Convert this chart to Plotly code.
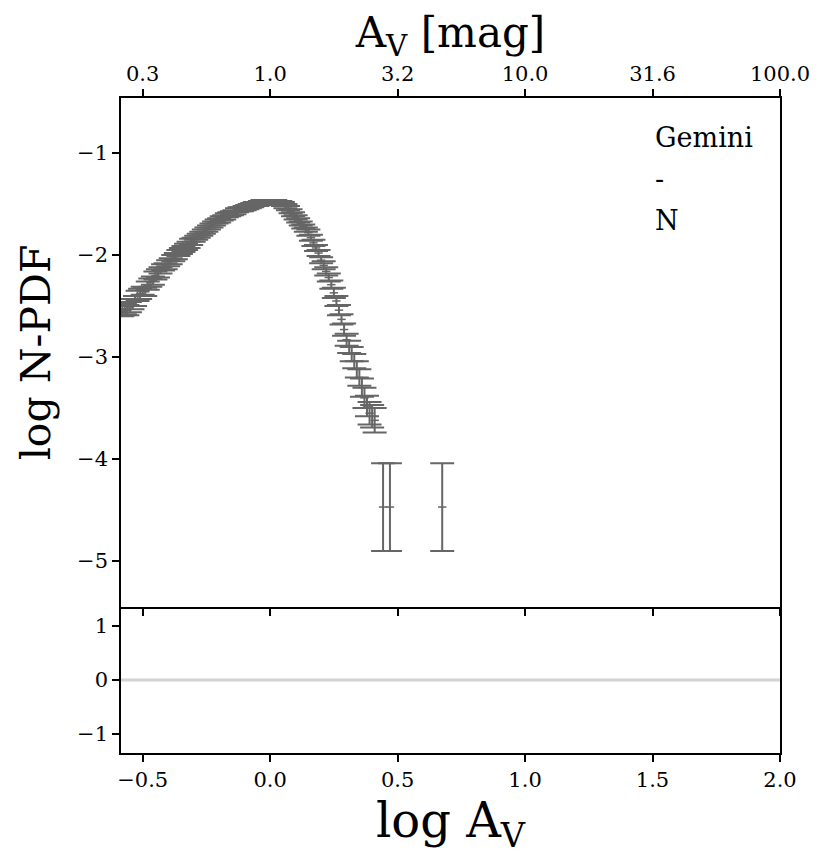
import plotly.graph_objects as go

# log A_V bin centres and log N-PDF values
log_av = [-0.58, -0.57, -0.56, -0.55, -0.54, -0.53, -0.52, -0.51, -0.50, -0.49,
          -0.48, -0.47, -0.46, -0.45, -0.44, -0.43, -0.42, -0.41, -0.40, -0.39,
          -0.38, -0.37, -0.36, -0.35, -0.34, -0.33, -0.32, -0.31, -0.30, -0.29,
          -0.28, -0.27, -0.26, -0.25, -0.24, -0.23, -0.22, -0.21, -0.20, -0.19,
          -0.18, -0.17, -0.16, -0.15, -0.14, -0.13, -0.12, -0.11, -0.10, -0.09,
          -0.08, -0.07, -0.06, -0.05, -0.04, -0.03, -0.02, -0.01, 0.00, 0.01,
          0.02, 0.03, 0.04, 0.05, 0.06, 0.07, 0.08, 0.09, 0.10, 0.11,
          0.12, 0.13, 0.14, 0.15, 0.16, 0.17, 0.18, 0.19, 0.20, 0.21,
          0.22, 0.23, 0.24, 0.25, 0.26, 0.27, 0.28, 0.29, 0.30, 0.31,
          0.32, 0.33, 0.34, 0.35, 0.36, 0.37, 0.38, 0.39, 0.40, 0.41,
          0.443, 0.47, 0.675]
log_pdf = [-2.55, -2.53, -2.54, -2.51, -2.48, -2.45, -2.40, -2.38, -2.35, -2.36,
           -2.30, -2.27, -2.25, -2.20, -2.18, -2.15, -2.12, -2.11, -2.08, -2.06,
           -2.03, -2.01, -1.98, -1.96, -1.94, -1.92, -1.90, -1.87, -1.85, -1.83,
           -1.81, -1.79, -1.77, -1.75, -1.73, -1.71, -1.69, -1.67, -1.66, -1.64,
           -1.63, -1.61, -1.60, -1.59, -1.58, -1.56, -1.55, -1.55, -1.54, -1.53,
           -1.52, -1.51, -1.50, -1.50, -1.49, -1.48, -1.48, -1.48, -1.48, -1.48,
           -1.48, -1.49, -1.49, -1.50, -1.52, -1.54, -1.57, -1.60, -1.63, -1.66,
           -1.69, -1.72, -1.75, -1.78, -1.83, -1.88, -1.93, -1.98, -2.05, -2.10,
           -2.16, -2.22, -2.29, -2.37, -2.45, -2.54, -2.63, -2.73, -2.83, -2.90,
           -2.97, -3.04, -3.12, -3.20, -3.30, -3.40, -3.48, -3.55, -3.58, -3.62,
           -4.47, -4.47, -4.47]
pdf_err = [0.05, 0.05, 0.05, 0.05, 0.05, 0.05, 0.05, 0.05, 0.04, 0.04,
           0.04, 0.04, 0.04, 0.04, 0.04, 0.03, 0.03, 0.03, 0.03, 0.03,
           0.03, 0.03, 0.03, 0.03, 0.03, 0.03, 0.03, 0.03, 0.02, 0.02,
           0.02, 0.02, 0.02, 0.02, 0.02, 0.02, 0.02, 0.02, 0.02, 0.02,
           0.02, 0.02, 0.02, 0.02, 0.02, 0.02, 0.02, 0.02, 0.02, 0.02,
           0.02, 0.02, 0.02, 0.02, 0.02, 0.02, 0.02, 0.02, 0.02, 0.02,
           0.02, 0.02, 0.02, 0.02, 0.02, 0.02, 0.02, 0.02, 0.02, 0.02,
           0.02, 0.02, 0.02, 0.03, 0.03, 0.03, 0.03, 0.03, 0.03, 0.04,
           0.04, 0.04, 0.04, 0.05, 0.05, 0.05, 0.05, 0.06, 0.06, 0.06,
           0.07, 0.07, 0.08, 0.08, 0.09, 0.10, 0.10, 0.11, 0.11, 0.12,
           0.43, 0.43, 0.43]

top_tick_vals = [-0.5, 0.0, 0.5, 1.0, 1.5, 2.0]
top_tick_text = ["0.3", "1.0", "3.2", "10.0", "31.6", "100.0"]
bottom_tick_vals = [-0.5, 0.0, 0.5, 1.0, 1.5, 2.0]
bottom_tick_text = ["\u22120.5", "0.0", "0.5", "1.0", "1.5", "2.0"]
main_y_vals = [-1, -2, -3, -4, -5]
main_y_text = ["\u22121", "\u22122", "\u22123", "\u22124", "\u22125"]
res_y_vals = [1, 0, -1]
res_y_text = ["1", "0", "\u22121"]
res_line_x = [-0.585, 2.0]
res_line_y = [0, 0]

FONT = "DejaVu Serif"
GRAY = "#666666"
XR = [-0.585, 2.0]

fig = go.Figure()
fig.add_trace(go.Scatter(
    x=log_av, y=log_pdf, mode="markers",
    marker=dict(size=6, color=GRAY, symbol="line-ew", line=dict(width=1.5, color=GRAY)),
    error_y=dict(type="data", array=pdf_err, visible=True, color=GRAY, thickness=2, width=12),
    xaxis="x", yaxis="y", showlegend=False))
fig.add_trace(go.Scatter(
    x=res_line_x, y=res_line_y, mode="lines",
    line=dict(color="lightgray", width=3),
    xaxis="x2", yaxis="y2", showlegend=False))

dom = 0.2229
axis_common = dict(showgrid=False, zeroline=False, linecolor="black", linewidth=1.5,
                   ticks="outside", ticklen=7, tickwidth=1.5, tickcolor="black",
                   automargin=False,
                   tickfont=dict(family=FONT, size=21, color="black"))

fig.update_layout(
    width=830, height=864,
    margin=dict(l=113, r=58, t=90, b=119),
    paper_bgcolor="white", plot_bgcolor="white",
    xaxis=dict(axis_common, range=XR, side="top", anchor="y", domain=[0, 1],
               tickvals=top_tick_vals, ticktext=top_tick_text, mirror="ticks",
               title=dict(text="A<sub>V</sub> [mag]",
                          font=dict(family=FONT, size=42, color="black"), standoff=2)),
    yaxis=dict(axis_common, range=[-5.45, -0.46], domain=[dom, 1], anchor="x",
               tickvals=main_y_vals, ticktext=main_y_text, mirror=True,
               title=dict(text="log N-PDF",
                          font=dict(family=FONT, size=41, color="black"), standoff=14)),
    xaxis2=dict(axis_common, range=XR, side="bottom", anchor="y2", domain=[0, 1],
                tickvals=bottom_tick_vals, ticktext=bottom_tick_text, mirror=False,
                title=dict(text="log A<sub>V</sub>",
                           font=dict(family=FONT, size=48, color="black"), standoff=4)),
    yaxis2=dict(axis_common, range=[-1.35, 1.35], domain=[0, dom], anchor="x2",
                tickvals=res_y_vals, ticktext=res_y_text, mirror=True),
)

for txt, yy in [("Gemini", 129), ("-", 170), ("N", 212)]:
    fig.add_annotation(text=txt, xref="paper", yref="paper",
                       x=(645 - 113) / 659, y=1 - (yy - 90) / 655,
                       xanchor="left", yanchor="middle", showarrow=False,
                       font=dict(family=FONT, size=27, color="black"))

fig.write_html("out.html")
